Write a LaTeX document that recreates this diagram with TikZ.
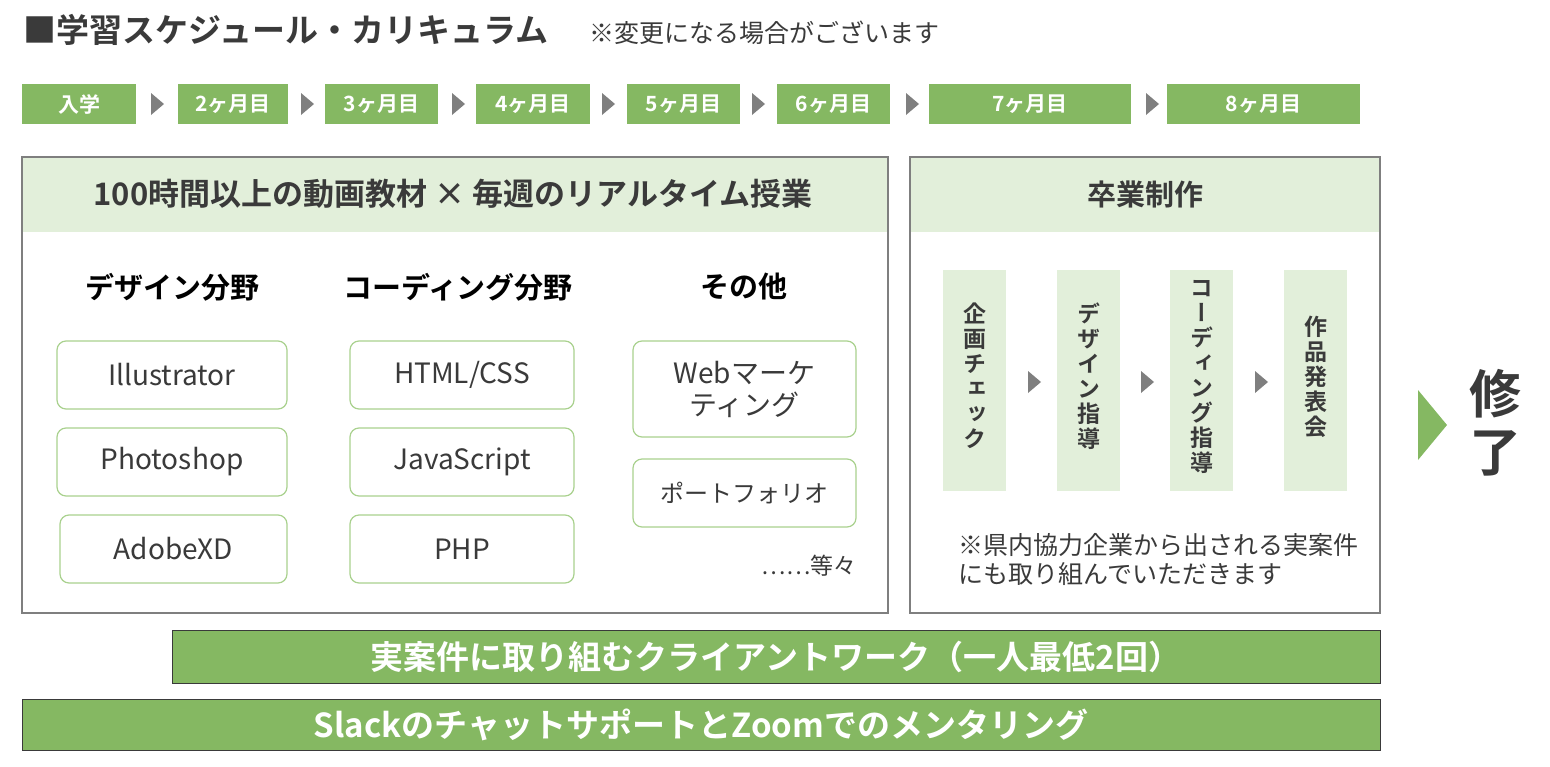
\documentclass[tikz,border=0pt]{standalone}
\usepackage{fontspec}
\setmainfont{Noto Sans CJK JP}
\newfontfamily\jpb{Noto Sans CJK JP Bold}
\newfontfamily\vjp[RawFeature=+vert]{Noto Sans CJK JP Bold}
\definecolor{grn}{HTML}{85B862}
\definecolor{lgrn}{HTML}{E2EFDA}
\definecolor{bgrn}{HTML}{A9D18E}
\definecolor{dk}{HTML}{3A3A3A}
\definecolor{tri}{HTML}{7F7F7F}
\begin{document}
\begin{tikzpicture}[x=1pt,y=-1pt,
 mon/.style={fill=grn,text=white,font=\jpb\fontsize{17}{17}\selectfont,inner sep=0},
 frame/.style={draw=tri,line width=1.2pt},
 item/.style={draw=bgrn,line width=1.2pt,rounded corners=9pt,fill=white,font=\fontsize{28}{32}\selectfont,text=dk,align=center},
 colh/.style={font=\jpb\fontsize{29}{29}\selectfont,text=black},
 vtxt/.style={font=\vjp\fontsize{23}{25}\selectfont,text=dk,align=center,inner sep=0},
 band/.style={fill=grn,draw=dk,line width=1pt,text=white,font=\jpb\fontsize{33}{33}\selectfont}]
\useasboundingbox (0,0) rectangle (1550,766);
\node[anchor=west,text=dk,font=\jpb\fontsize{33}{33}\selectfont] (title) at (20,30) {■学習スケジュール・カリキュラム};
\node[anchor=west,text=dk,font=\fontsize{25}{25}\selectfont] (note) at (586,33) {※変更になる場合がございます};
% timeline
\foreach \a/\b/\t [count=\i] in {22/136/入学,178/288/2ヶ月目,325/438/3ヶ月目,476/590/4ヶ月目,627/740/5ヶ月目,777/890/6ヶ月目,929/1131/7ヶ月目,1167/1360/8ヶ月目}{
  \path[fill=grn] (\a,84) rectangle (\b,124);
  \node[text=white,font=\jpb\fontsize{21}{21}\selectfont] (m\i) at ({(\a+\b)/2},104) {\t};
}
\foreach \x in {151,301,452,602,752,906,1146}{
  \fill[tri] (\x,93) -- (\x+13,104) -- (\x,115) -- cycle;
}
% left box
\fill[lgrn] (22,157) rectangle (888,232);
\draw[frame] (22,157) rectangle (888,613);
\node[text=dk,font=\jpb\fontsize{31}{31}\selectfont] (lh) at (453,194) {100時間以上の動画教材 × 毎週のリアルタイム授業};
\node[colh] (c1) at (172,287) {デザイン分野};
\node[colh] (c2) at (458,287) {コーディング分野};
\node[colh] (c3) at (744,287) {その他};
\node[item,minimum width=230pt,minimum height=68pt] (i1) at (172,375) {Illustrator};
\node[item,minimum width=230pt,minimum height=68pt] (i2) at (172,462) {Photoshop};
\node[item,minimum width=227pt,minimum height=68pt] (i3) at (173.5,549) {AdobeXD};
\node[item,minimum width=224pt,minimum height=68pt] (j1) at (462,375) {HTML/CSS};
\node[item,minimum width=224pt,minimum height=68pt] (j2) at (462,462) {JavaScript};
\node[item,minimum width=224pt,minimum height=68pt] (j3) at (462,549) {PHP};
\node[item,minimum width=223pt,minimum height=96pt] (k1) at (744.5,389) {Webマーケ\\ティング};
\node[item,minimum width=223pt,minimum height=68pt,font=\fontsize{24}{24}\selectfont] (k2) at (744.5,493) {ポートフォリオ};
\node[text=dk,font=\fontsize{23}{23}\selectfont] (etc) at (809,566) {……等々};
% right box
\fill[lgrn] (910,157) rectangle (1380,232);
\draw[frame] (910,157) rectangle (1380,613);
\node[text=dk,font=\jpb\fontsize{29}{29}\selectfont] (rh) at (1145,194) {卒業制作};
\foreach \a in {943,1057,1170,1284}{
  \fill[lgrn] (\a,270) rectangle (\a+63,491);
}
\node[vtxt,anchor=north] (v1) at (974.5,303) {企\\画\\チ\\ェ\\ッ\\ク};
\node[vtxt,anchor=north] (v2) at (1088.5,303) {デ\\ザ\\イ\\ン\\指\\導};
\node[vtxt,anchor=north] (v3) at (1201.5,280) {コ\\ー\\デ\\ィ\\ン\\グ\\指\\導};
\node[vtxt,anchor=north] (v4) at (1315.5,316) {作\\品\\発\\表\\会};
\foreach \x in {1028,1141,1255}{
  \fill[tri] (\x,371) -- (\x+13,382) -- (\x,393) -- cycle;
}
\node[anchor=west,text=dk,font=\fontsize{25}{29}\selectfont,align=left] (rn) at (955,559) {※県内協力企業から出される実案件\\にも取り組んでいただきます};
% finish
\fill[grn] (1418,390) -- (1447,425) -- (1418,460) -- cycle;
\node[text=dk,font=\jpb\fontsize{52}{58}\selectfont,align=center] (fin) at (1495,423) {修\\了};
% bands
\node[band,minimum width=1208pt,minimum height=53pt,inner sep=0] (b1) at (776,656.5) {実案件に取り組むクライアントワーク（一人最低2回）};
\node[band,minimum width=1358pt,minimum height=51pt,inner sep=0] (b2) at (701,724.5) {Slackのチャットサポートと\hspace{0pt}Zoomでのメンタリング};
\end{tikzpicture}
\end{document}
